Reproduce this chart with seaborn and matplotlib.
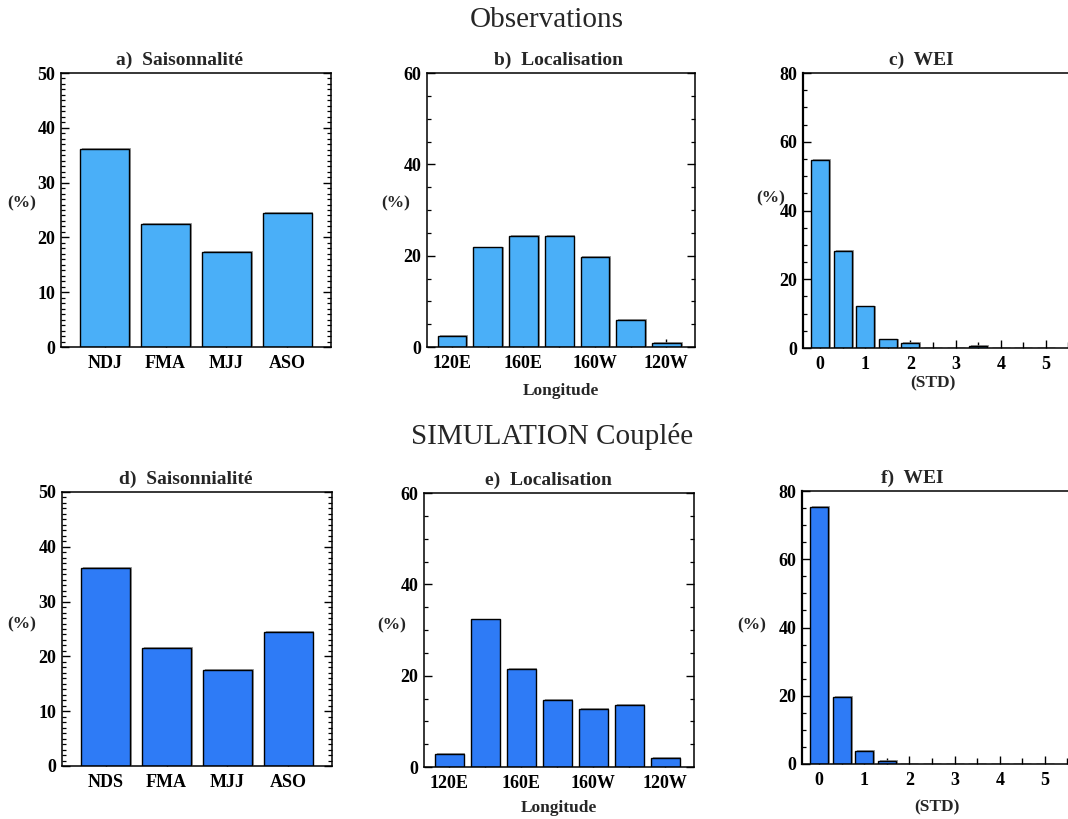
import numpy as np
import pandas as pd
import matplotlib
matplotlib.use("Agg")
import matplotlib.pyplot as plt
import matplotlib.patheffects as pe
from matplotlib.ticker import MultipleLocator, FixedLocator
import seaborn as sns

# ---------------- data ----------------
seasons_obs = ["NDJ", "FMA", "MJJ", "ASO"]
season_obs_vals = [36.1, 22.4, 17.3, 24.5]
seasons_sim = ["NDS", "FMA", "MJJ", "ASO"]
season_sim_vals = [36.2, 21.5, 17.6, 24.5]

lon_centers = [120, 140, 160, 180, 200, 220, 240]
lon_tick_pos = [120, 160, 200, 240]
lon_tick_labels = ["120E", "160E", "160W", "120W"]
lon_obs_vals = [2.5, 21.8, 24.3, 24.3, 19.7, 6.0, 0.9]
lon_sim_vals = [2.9, 32.3, 21.5, 14.7, 12.8, 13.6, 2.0]

wei_bins = [0.0, 0.5, 1.0, 1.5, 2.0, 2.5, 3.0, 3.5, 4.0, 4.5, 5.0]
wei_obs_vals = [54.6, 28.3, 12.1, 2.5, 1.5, 0.0, 0.0, 0.6, 0.0, 0.0, 0.0]
wei_sim_vals = [75.4, 19.6, 3.8, 0.9, 0.0, 0.0, 0.0, 0.0, 0.0, 0.0, 0.0]

obs_color = "#4AAFF8"
sim_color = "#2E7BF6"

sns.set_theme(style="white")
plt.rcParams["font.family"] = ["Liberation Serif", "DejaVu Serif"]
plt.rcParams["axes.linewidth"] = 1.1

fig = plt.figure(figsize=(10.68, 8.19), dpi=100)

W, H = 1068.0, 819.0


def make_ax(left, top, right, bottom):
    return fig.add_axes([left / W, 1 - bottom / H, (right - left) / W, (bottom - top) / H])


shadow = [pe.SimplePatchShadow(offset=(1.3, 0.6), shadow_rgbFace="#888888", alpha=0.8), pe.Normal()]

TICK_FS = 13
LAB_FS = 12.5
title_font = dict(fontsize=14, fontweight="bold")


def style_common(ax, right_ticks=True):
    ax.tick_params(axis="both", which="both", direction="in", colors="black",
                   labelcolor="black")
    ax.tick_params(axis="y", which="major", length=6, width=1.0, right=right_ticks, left=True, pad=4)
    ax.tick_params(axis="y", which="minor", length=3, width=0.9, right=right_ticks, left=True)
    ax.tick_params(axis="x", which="major", length=6, width=1.0, bottom=True, top=False, pad=6)
    ax.tick_params(axis="x", which="minor", length=4, width=1.0, bottom=True, top=False)
    for lab in ax.get_xticklabels() + ax.get_yticklabels():
        lab.set_fontsize(TICK_FS)
        lab.set_fontweight("bold")
    for sp in ax.spines.values():
        sp.set_color("black")
        sp.set_linewidth(1.1)


def apply_shadow(ax):
    for p in ax.patches:
        p.set_path_effects(shadow)


def season_panel(ax, cats, vals, color, title, tx, lab_xy):
    df = pd.DataFrame({"season": cats, "pct": vals})
    sns.barplot(data=df, x="season", y="pct", color=color, saturation=1, width=0.8,
                edgecolor="black", linewidth=1.0, errorbar=None, ax=ax)
    apply_shadow(ax)
    ax.set_xlim(-0.72, 3.72)
    ax.set_ylim(0, 50)
    ax.yaxis.set_major_locator(MultipleLocator(10))
    ax.yaxis.set_minor_locator(MultipleLocator(1))
    ax.set_xlabel("")
    ax.set_ylabel("(%)", rotation=0, ha="center", va="center", fontsize=LAB_FS, fontweight="bold")
    ax.yaxis.set_label_coords(*lab_xy)
    ax.set_title(title, x=tx, pad=6, **title_font)
    style_common(ax)


def lon_panel(ax, vals, color, title, tx, lab_xy, xl_y):
    df = pd.DataFrame({"lon": lon_centers, "pct": vals})
    sns.barplot(data=df, x="lon", y="pct", color=color, saturation=1, width=0.8,
                native_scale=True, edgecolor="black", linewidth=1.0, errorbar=None, ax=ax)
    apply_shadow(ax)
    ax.set_xlim(106, 256)
    ax.set_ylim(0, 60)
    ax.xaxis.set_major_locator(FixedLocator(lon_tick_pos))
    ax.set_xticklabels(lon_tick_labels)
    ax.xaxis.set_minor_locator(FixedLocator([140, 180, 220]))
    ax.yaxis.set_major_locator(MultipleLocator(20))
    ax.yaxis.set_minor_locator(MultipleLocator(5))
    ax.set_xlabel("Longitude", fontsize=LAB_FS, fontweight="bold")
    ax.xaxis.set_label_coords(0.5, xl_y)
    ax.set_ylabel("(%)", rotation=0, ha="center", va="center", fontsize=LAB_FS, fontweight="bold")
    ax.yaxis.set_label_coords(*lab_xy)
    ax.set_title(title, x=tx, pad=6, **title_font)
    style_common(ax)
    ax.tick_params(axis="x", which="minor", length=6)


def wei_panel(ax, vals, color, title, tx, lab_xy, xl_xy):
    df = pd.DataFrame({"std": wei_bins, "pct": vals})
    sns.barplot(data=df, x="std", y="pct", color=color, saturation=1, width=0.8,
                native_scale=True, edgecolor="black", linewidth=1.0, errorbar=None, ax=ax)
    apply_shadow(ax)
    ax.set_xlim(-0.38, 5.6)
    ax.set_ylim(0, 80)
    ax.xaxis.set_major_locator(MultipleLocator(1))
    ax.xaxis.set_minor_locator(MultipleLocator(0.5))
    ax.yaxis.set_major_locator(MultipleLocator(20))
    ax.yaxis.set_minor_locator(MultipleLocator(5))
    ax.set_xticklabels([str(int(round(t))) for t in ax.get_xticks()])
    ax.set_xlabel("(STD)", fontsize=LAB_FS, fontweight="bold")
    ax.xaxis.set_label_coords(*xl_xy)
    ax.set_ylabel("(%)", rotation=0, ha="center", va="center", fontsize=LAB_FS, fontweight="bold")
    ax.yaxis.set_label_coords(*lab_xy)
    ax.set_title(title, x=tx, pad=6, **title_font)
    style_common(ax, right_ticks=False)
    ax.spines["left"].set_linewidth(1.6)


ax_a = make_ax(61, 73, 331, 347)
ax_b = make_ax(427, 73, 695, 347)
ax_c = make_ax(803, 73, 1073, 348)
ax_d = make_ax(62, 492, 332, 766)
ax_e = make_ax(424, 493, 694, 767)
ax_f = make_ax(802, 491, 1072, 764)

season_panel(ax_a, seasons_obs, season_obs_vals, obs_color, "a)  Saisonnalité", 0.44, (-0.145, 0.525))
lon_panel(ax_b, lon_obs_vals, obs_color, "b)  Localisation", 0.49, (-0.115, 0.525), -0.13)
wei_panel(ax_c, wei_obs_vals, obs_color, "c)  WEI", 0.44, (-0.12, 0.545), (0.48, -0.1))

season_panel(ax_d, seasons_sim, season_sim_vals, sim_color, "d)  Saisonnialité", 0.46, (-0.148, 0.518))
lon_panel(ax_e, lon_sim_vals, sim_color, "e)  Localisation", 0.46, (-0.12, 0.518), -0.12)
wei_panel(ax_f, wei_sim_vals, sim_color, "f)  WEI", 0.41, (-0.185, 0.509), (0.5, -0.13))

fig.text(547 / W, 1 - 20 / H, "Observations", ha="center", va="center", fontsize=21)
fig.text(552 / W, 1 - 437 / H, "SIMULATION Couplée", ha="center", va="center", fontsize=21)

fig.savefig("out.png", dpi=100, facecolor="white")
